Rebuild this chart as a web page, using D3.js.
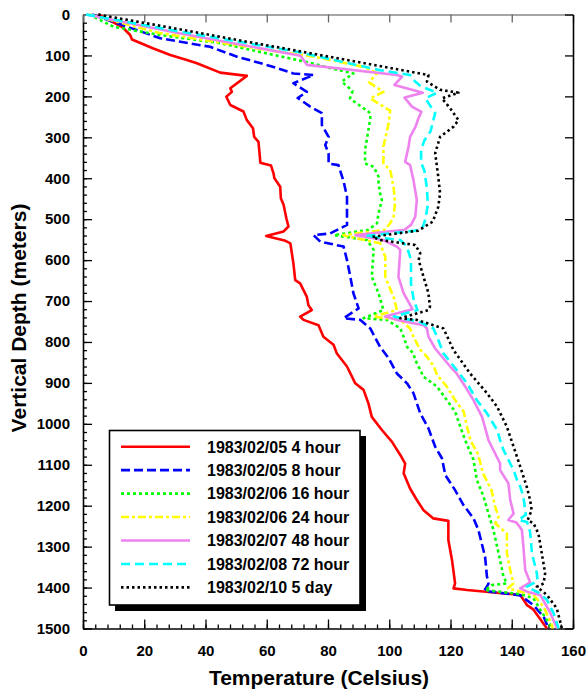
<!DOCTYPE html>
<html>
<head>
<meta charset="utf-8">
<script src="https://cdnjs.cloudflare.com/ajax/libs/d3/7.8.5/d3.min.js"></script>
<style>
  body { margin: 0; background: white; }
  text { font-family: Arial, "Liberation Sans", sans-serif; font-weight: bold; }
</style>
</head>
<body>
<script>
// temperature logs, [depth (m), temperature (C)]
var log_4h = [[0,5],[30,12.7],[50,15.4],[61,16],[83,23],[99,28.5],[111,33.9],[119,37.2],[142,44.8],[150,53.5],[180,48.1],[189,48.6],[201,46.8],[221,48.1],[237,52.4],[258,53.5],[278,55.5],[299,55.9],[311,57.3],[335,57.6],[362,57.9],[369,61.4],[388,62.2],[400,62.5],[421,64.4],[449,64.6],[465,65.5],[498,66.4],[518,67.1],[530,65.5],[541,59.8],[552,65.8],[559,67.7],[608,68.7],[649,69.3],[657,70.9],[690,73.1],[710,73.6],[722,74.7],[738,70.9],[746,72],[759,76.9],[787,78.5],[807,81.8],[828,82.9],[860,86.2],[901,88.9],[917,91.6],[950,93.2],[983,94.3],[1015,97.6],[1044,100.9],[1076,103.6],[1097,105.2],[1121,104.7],[1158,106.8],[1186,109],[1211,111.2],[1231,114.4],[1237,119.3],[1284,119.3],[1333,120.5],[1390,121.5],[1402,121],[1406,125.4],[1418,142.8],[1443,145],[1454,147.1],[1500,151.5]];
var log_8h = [[0,3],[58,25.2],[79,41.5],[103,50.3],[128,62.2],[144,68.7],[148,75.3],[168,68.7],[189,73.1],[204,70.1],[225,74.2],[241,78],[270,78],[299,80.2],[319,79.1],[339,80.2],[364,80.2],[368,83.4],[408,85.1],[445,86.2],[514,86.2],[535,80.7],[539,75.3],[555,77.5],[567,85.1],[600,86.2],[641,87.3],[681,88.3],[718,90],[742,85.1],[746,90.5],[767,93.8],[812,97],[840,99.8],[877,102.5],[901,105.8],[925,107.9],[974,110.1],[1011,112.8],[1056,115],[1084,117.2],[1125,118.3],[1162,121.5],[1198,124.2],[1231,127.5],[1259,129.1],[1325,131.3],[1373,131.9],[1391,132.4],[1408,131],[1419,142.8],[1443,147.1],[1471,150.4],[1500,152]];
var log_16h = [[0,2],[30,10],[50,25.2],[70,44.8],[95,60],[118,74.2],[131,80.7],[144,88.3],[164,84.5],[187,88],[205,87.2],[229,91.6],[241,93.8],[254,93.8],[282,93.2],[331,92.1],[364,92.1],[372,94.9],[396,96.5],[412,96.5],[437,97],[453,97.6],[486,96.5],[510,96],[526,93.2],[539,82],[551,92.7],[575,94.9],[641,94.3],[681,96.5],[722,98.1],[742,91.6],[746,99.2],[767,103.6],[787,104.7],[812,105.8],[828,107.9],[844,108.5],[885,111.2],[909,115.6],[942,118.8],[970,121.5],[1007,123.2],[1040,124.8],[1088,127.5],[1137,128.6],[1178,130.8],[1219,132.4],[1259,134],[1316,135.7],[1373,137.3],[1390,138.4],[1394,133.5],[1406,131.3],[1416,142.8],[1426,147.1],[1454,149.3],[1491,152.5],[1500,152.8]];
var log_24h = [[0,2],[45,25],[83,56.8],[103,75.3],[128,91.6],[143,96],[166,93.4],[189,98.1],[205,93.8],[235,100.3],[266,99.8],[323,98.1],[364,98.1],[380,100.3],[421,101.4],[461,101.9],[494,101.4],[510,100.3],[526,98.5],[539,85],[545,88.3],[559,97],[592,98.7],[641,98.7],[690,101.4],[722,102.5],[738,94.8],[746,103.6],[767,106.8],[787,107.9],[819,110.1],[836,112.3],[860,114.6],[881,115.6],[909,118.8],[942,121.5],[970,124.3],[1007,125.4],[1040,126.5],[1076,129.1],[1121,130.6],[1162,133.4],[1203,134.6],[1227,135.7],[1243,134.6],[1268,138.4],[1316,138.4],[1357,139.5],[1390,140.5],[1402,138.8],[1418,147.1],[1447,150.4],[1491,153.1],[1500,153.4]];
var log_48h = [[0,1],[45,31],[101,71],[123,73.1],[148,102.5],[152,104.2],[172,101.7],[180,105.6],[191,111],[203,105],[225,107.4],[238,110.5],[254,109.5],[274,108.6],[299,106.8],[323,106.3],[360,105.2],[368,106.8],[404,107.9],[453,109],[494,108.5],[514,107.1],[526,105],[539,89],[551,98],[567,102.5],[575,103.6],[641,103],[681,104.7],[720,107.6],[738,98.6],[746,102.5],[759,111.2],[767,112.3],[787,112.8],[816,115],[860,119.9],[877,122],[909,124.8],[942,127.5],[983,130.3],[1015,131.5],[1040,132.4],[1064,134],[1097,136.2],[1113,136.2],[1145,138.9],[1186,139.5],[1219,140.6],[1235,138.9],[1241,141.5],[1259,143.3],[1300,143.8],[1357,144.4],[1387,146],[1402,142.8],[1410,145],[1418,149.3],[1462,152.6],[1500,154.8]];
var log_72h = [[0,1],[40,30.4],[91,69.8],[136,97],[148,106.8],[160,107.9],[176,110.4],[191,115.6],[205,111.8],[229,113.9],[241,115],[258,114.4],[285,113.5],[307,111.5],[331,110.4],[362,110.4],[382,111.5],[425,112.3],[465,112.6],[500,111.8],[518,111],[528,108.5],[541,92.5],[551,103.6],[567,105.8],[600,107.1],[657,107.1],[698,108],[722,109.2],[738,101.5],[750,109.6],[767,114.4],[787,115.6],[828,117.7],[869,122.1],[901,125.4],[942,128.6],[974,131.9],[1015,135.2],[1040,136.2],[1064,137.3],[1097,139.5],[1113,140.6],[1137,141.7],[1154,142.8],[1178,143.8],[1211,144.4],[1222,144.6],[1235,142.2],[1240,145],[1264,146],[1316,146.6],[1365,148.2],[1384,148.4],[1398,144.9],[1412,148.7],[1430,151.5],[1462,153.6],[1500,155.3]];
var log_5d = [[0,5],[87,68.6],[148,112.8],[164,112.3],[184,116.6],[191,122.6],[205,117.2],[229,119.9],[258,122.6],[274,121],[299,116.6],[339,115],[396,116],[437,116.6],[470,116],[506,114.2],[528,109.5],[543,94.5],[551,97],[563,108.5],[583,110.1],[600,109.6],[641,111.2],[681,112.8],[714,113.3],[722,112.8],[742,103.6],[746,109],[767,117.7],[820,121],[877,126.4],[925,131.9],[958,135.2],[1007,138.4],[1056,140.6],[1105,142.8],[1154,144.9],[1186,146],[1211,146.5],[1235,145.2],[1243,147.1],[1268,148.7],[1316,149.8],[1365,150.9],[1390,150.4],[1398,148.2],[1418,151.5],[1451,154.7],[1500,156.4]];

var series_names = ["1983/02/05 4 hour", "1983/02/05 8 hour", "1983/02/06 16 hour", "1983/02/06 24 hour",
                    "1983/02/07 48 hour", "1983/02/08 72 hour", "1983/02/10 5 day"];
var series_data = [log_4h, log_8h, log_16h, log_24h, log_48h, log_72h, log_5d];
var series_colors = ["#ff0000", "#0000ff", "#00ff00", "#ffff00", "#ee82ee", "#00ffff", "#000000"];
var series_dash = [null, "9,4", "3,3", "8,3,3,3", null, "9,5", "2.5,3"];

var x_ticks = [0,20,40,60,80,100,120,140,160];
var y_ticks = [0,100,200,300,400,500,600,700,800,900,1000,1100,1200,1300,1400,1500];

// set the dimensions and margins of the graph
var margin = {top: 14.5, right: 15, bottom: 61.5, left: 83},
    width = 588 - margin.left - margin.right,
    height = 690 - margin.top - margin.bottom;

var svg = d3.select("body")
  .append("svg")
    .attr("width", 588)
    .attr("height", 690)
  .append("g")
    .attr("transform", "translate(" + margin.left + "," + margin.top + ")");

var x = d3.scaleLinear().domain([0,160]).range([0, width]);
var y = d3.scaleLinear().domain([0,1500]).range([0, height]);

// minor ticks first, no labels
svg.append("g")
  .attr("transform", "translate(0," + height + ")")
  .call(d3.axisBottom(x).tickValues(d3.range(0,161,4)).tickSize(-4).tickFormat(""))
  .call(function(g) { g.select(".domain").remove(); });
svg.append("g")
  .call(d3.axisLeft(y).tickValues(d3.range(0,1501,20)).tickSize(-4).tickFormat(""))
  .call(function(g) { g.select(".domain").remove(); });

// main axes
var xAxis = svg.append("g")
  .attr("transform", "translate(0," + height + ")")
  .call(d3.axisBottom(x).tickValues(x_ticks).tickSize(-9).tickSizeOuter(0).tickPadding(17).tickFormat(d3.format("d")));
xAxis.selectAll("text").style("font-size", "15px").attr("fill", "black");

var yAxis = svg.append("g")
  .call(d3.axisLeft(y).tickValues(y_ticks).tickSize(-9).tickSizeOuter(0).tickPadding(13).tickFormat(d3.format("d")));
yAxis.selectAll("text").style("font-size", "15px").attr("fill", "black");

// top and right, ticks only
svg.append("g")
  .attr("class", "top")
  .call(d3.axisTop(x).tickValues(x_ticks).tickSize(-8).tickSizeOuter(0).tickFormat(""))
svg.append("g")
  .attr("transform", "translate(" + width + ",0)")
  .call(d3.axisRight(y).tickValues(y_ticks).tickSize(-8).tickSizeOuter(0).tickFormat(""));

svg.selectAll(".domain").attr("stroke-width", 1.6);
svg.selectAll(".tick line").attr("stroke-width", 1.3);
svg.select(".top .domain").attr("stroke", "#888");
svg.selectAll(".top .tick line").attr("stroke", "#666");

// curves
var line = d3.line()
  .x(function(d) { return x(d[1]); })
  .y(function(d) { return y(d[0]); });

var plot = svg.append("g");
for (var i = 0; i < series_data.length; i++) {
  plot.append("path")
    .datum(series_data[i])
    .attr("fill", "none")
    .attr("stroke", series_colors[i])
    .attr("stroke-width", 2.6)
    .attr("stroke-dasharray", series_dash[i])
    .attr("stroke-linejoin", "round")
    .attr("d", line);
}

// axis titles
svg.append("text")
  .attr("x", 236)
  .attr("y", 670)
  .attr("text-anchor", "middle")
  .style("font-size", "21px")
  .text("Temperature (Celsius)");

svg.append("text")
  .attr("transform", "translate(" + (26 - margin.left) + "," + (318 - margin.top) + ")rotate(-90)")
  .attr("text-anchor", "middle")
  .style("font-size", "21px")
  .text("Vertical Depth (meters)");

// legend with drop shadow
var legend = d3.select("svg").append("g");
legend.append("rect")
  .attr("x", 115).attr("y", 436)
  .attr("width", 251).attr("height", 175)
  .attr("fill", "black");
legend.append("rect")
  .attr("x", 109.5).attr("y", 430.5)
  .attr("width", 250.5).attr("height", 174.5)
  .attr("fill", "white")
  .attr("stroke", "black")
  .attr("stroke-width", 1.6);

var rows = legend.selectAll("g.row")
  .data(series_names)
  .enter()
  .append("g")
  .attr("class", "row")
  .attr("transform", function(d, i) { return "translate(0," + (446.7 + i * 23.45) + ")"; });

rows.append("line")
  .attr("x1", 121).attr("x2", 190)
  .attr("stroke", function(d, i) { return series_colors[i]; })
  .attr("stroke-width", 2.6)
  .attr("stroke-dasharray", function(d, i) { return series_dash[i]; });

rows.append("text")
  .attr("x", 207)
  .attr("y", 5.8)
  .style("font-size", "16px")
  .text(function(d) { return d; });
</script>
</body>
</html>
